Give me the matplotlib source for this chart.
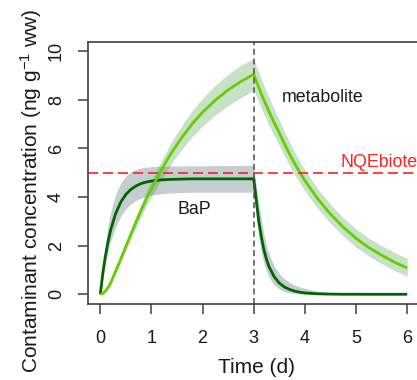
import matplotlib
matplotlib.use("Agg")
import matplotlib.pyplot as plt

plt.rcParams['font.family'] = ['Liberation Sans', 'DejaVu Sans']
plt.rcParams['mathtext.fontset'] = 'custom'
plt.rcParams['mathtext.rm'] = 'Liberation Sans'
plt.rcParams['mathtext.it'] = 'Liberation Sans:italic'
plt.rcParams['mathtext.bf'] = 'Liberation Sans:bold'
plt.rcParams['lines.scale_dashes'] = False

# ---- data ----
time = [0, 0.05, 0.1, 0.15, 0.2, 0.3, 0.4, 0.5, 0.6, 0.7, 0.8, 0.9, 1.0, 1.2, 1.4,
        1.6, 1.8, 2.0, 2.25, 2.5, 2.75, 3.0,
        3.05, 3.1, 3.15, 3.2, 3.25, 3.3, 3.4, 3.5, 3.6, 3.7, 3.8, 3.9, 4.0, 4.25,
        4.5, 4.75, 5.0, 5.25, 5.5, 5.75, 6.0]

bap = [0, 0.86, 1.57, 2.14, 2.62, 3.32, 3.79, 4.11, 4.32, 4.46, 4.56, 4.62, 4.66, 4.71, 4.73,
       4.74, 4.75, 4.75, 4.75, 4.75, 4.75, 4.75,
       3.85, 3.00, 2.35, 1.82, 1.43, 1.13, 0.72, 0.46, 0.30, 0.20, 0.13, 0.085, 0.055, 0.02,
       0.007, 0.002, 0.001, 0, 0, 0, 0]
bap_hi = [0, 1.17, 2.09, 2.80, 3.35, 4.12, 4.58, 4.87, 5.04, 5.14, 5.20, 5.23, 5.25, 5.27, 5.28,
          5.28, 5.29, 5.29, 5.30, 5.30, 5.30, 5.30,
          4.43, 3.70, 3.05, 2.45, 2.00, 1.65, 1.15, 0.85, 0.64, 0.49, 0.38, 0.30, 0.24, 0.13,
          0.07, 0.035, 0.018, 0.008, 0.004, 0.002, 0.001]
bap_lo = [0, 0.69, 1.27, 1.75, 2.15, 2.77, 3.21, 3.51, 3.72, 3.86, 3.96, 4.03, 4.08, 4.14, 4.17,
          4.19, 4.20, 4.20, 4.20, 4.20, 4.20, 4.20,
          3.11, 2.31, 1.71, 1.26, 0.94, 0.69, 0.38, 0.21, 0.11, 0.063, 0.035, 0.02, 0.01, 0.002,
          0, 0, 0, 0, 0, 0, 0]

met = [0, 0.035, 0.13, 0.27, 0.45, 0.95, 1.45, 1.97, 2.48, 2.98, 3.46, 3.92, 4.35, 5.14, 5.85,
       6.47, 7.02, 7.49, 7.99, 8.41, 8.76, 9.05,
       8.77, 8.51, 8.24, 7.99, 7.75, 7.51, 7.06, 6.64, 6.19, 5.77, 5.38, 5.02, 4.68, 3.93,
       3.30, 2.76, 2.30, 1.92, 1.61, 1.32, 1.08]
met_hi = [0, 0.04, 0.15, 0.30, 0.50, 1.03, 1.57, 2.13, 2.68, 3.21, 3.73, 4.22, 4.68, 5.53, 6.30,
          6.97, 7.56, 8.07, 8.61, 9.06, 9.43, 9.70,
          9.40, 9.13, 8.85, 8.58, 8.33, 8.08, 7.61, 7.17, 6.70, 6.26, 5.85, 5.47, 5.12, 4.34,
          3.70, 3.15, 2.69, 2.31, 2.00, 1.72, 1.48]
met_lo = [0, 0.03, 0.11, 0.24, 0.40, 0.87, 1.33, 1.81, 2.29, 2.75, 3.20, 3.62, 4.02, 4.75, 5.41,
          5.98, 6.49, 6.92, 7.38, 7.77, 8.09, 8.40,
          8.15, 7.90, 7.65, 7.41, 7.18, 6.95, 6.52, 6.12, 5.69, 5.29, 4.92, 4.58, 4.25, 3.53,
          2.92, 2.40, 1.94, 1.57, 1.26, 0.98, 0.74]

nqe_value = 5.0
switch_time = 3.0
x_ticks = [0, 1, 2, 3, 4, 5, 6]
y_ticks = [0, 2, 4, 6, 8, 10]

# ---- figure ----
fig = plt.figure(figsize=(4.17, 3.80), dpi=100)
ax = fig.add_axes([0.211, 0.1987, 0.795, 0.690])

ax.fill_between(time, bap_lo, bap_hi, color=(47/255, 79/255, 79/255), alpha=0.28, lw=0)
ax.fill_between(time, met_lo, met_hi, color=(34/255, 139/255, 34/255), alpha=0.25, lw=0)
ax.plot(time, bap, color='#006400', lw=2.0, solid_capstyle='butt')
ax.plot(time, met, color='#66CD00', lw=2.0, solid_capstyle='butt')

ax.axhline(nqe_value, color='#FF2020', lw=1.2, dashes=(7.2, 3.6))
ax.axvline(switch_time, color='#505050', lw=1.1, dashes=(4.3, 2.6))

ax.text(4.35, 7.92, 'metabolite', ha='center', va='baseline', fontsize=12.8, color='#1a1a1a')
ax.text(1.84, 3.30, 'BaP', ha='center', va='baseline', fontsize=12.8, color='#1a1a1a')
ax.text(4.69, 5.24, 'NQEbiote', ha='left', va='baseline', fontsize=12.8, color='#FF2020')

ax.set_xlim(-0.24, 6.24)
ax.set_ylim(-0.42, 10.37)
ax.set_xticks(x_ticks)
ax.set_yticks(y_ticks)
ax.set_xticklabels([str(v) for v in x_ticks])
ax.set_yticklabels([str(v) for v in y_ticks])

for s in ax.spines.values():
    s.set_color('#404040')
    s.set_linewidth(1.2)

ax.tick_params(axis='both', direction='out', length=7.5, width=1.1, color='#404040',
               labelsize=13, labelcolor='#1a1a1a')
ax.tick_params(axis='x', pad=11)
ax.tick_params(axis='y', pad=9, labelrotation=90)
for lab in ax.get_yticklabels():
    lab.set_va('center')

fig.text(0.614, 0.033, 'Time (d)', ha='center', va='center', fontsize=15, color='#1a1a1a')
fig.text(0.0755, 0.497, r'Contaminant concentration (ng g$^{\mathregular{-1}}$ ww)', rotation=90,
         ha='center', va='center', fontsize=15, color='#1a1a1a')

fig.savefig('out.png', dpi=100)
